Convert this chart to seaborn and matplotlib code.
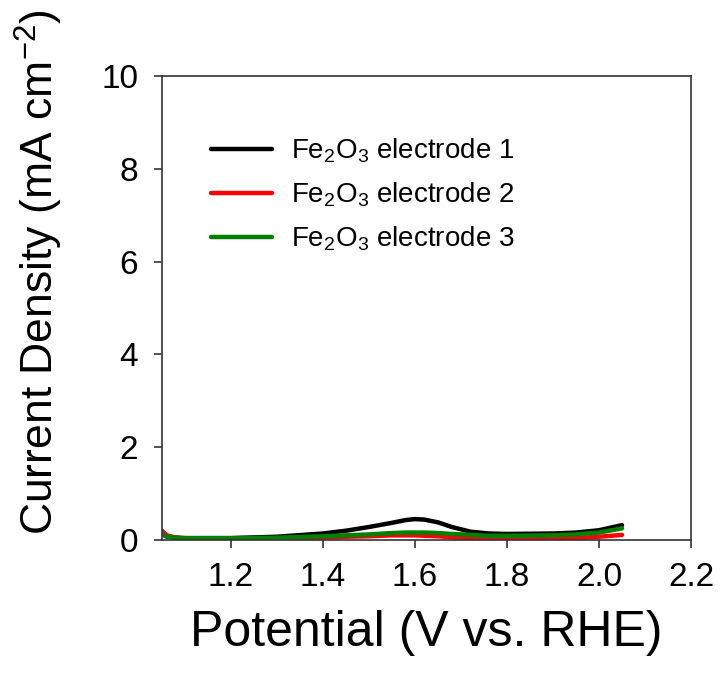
import numpy as np
import pandas as pd
import matplotlib
matplotlib.use("Agg")
import matplotlib.pyplot as plt
import seaborn as sns

potential = [1.05, 1.06, 1.08, 1.10, 1.20, 1.30, 1.40, 1.45, 1.50, 1.55,
             1.58, 1.60, 1.62, 1.65, 1.68, 1.72, 1.76, 1.80, 1.90, 1.95, 2.00, 2.05]
electrode_1 = [0.15, 0.08, 0.05, 0.04, 0.04, 0.07, 0.14, 0.20, 0.28, 0.37,
               0.43, 0.45, 0.44, 0.38, 0.28, 0.18, 0.14, 0.13, 0.14, 0.16, 0.21, 0.32]
electrode_2 = [0.20, 0.10, 0.05, 0.03, 0.02, 0.03, 0.05, 0.07, 0.08, 0.10,
               0.10, 0.10, 0.09, 0.08, 0.06, 0.04, 0.02, 0.02, 0.03, 0.04, 0.07, 0.11]
electrode_3 = [0.12, 0.07, 0.05, 0.04, 0.04, 0.05, 0.08, 0.10, 0.12, 0.15,
               0.16, 0.16, 0.16, 0.15, 0.13, 0.11, 0.09, 0.09, 0.10, 0.12, 0.16, 0.25]

labels = [r"Fe$_2$O$_3$ electrode 1", r"Fe$_2$O$_3$ electrode 2", r"Fe$_2$O$_3$ electrode 3"]
colors = ["black", "red", "green"]

n = len(potential)
df = pd.DataFrame({
    "Potential": potential * 3,
    "Current": electrode_1 + electrode_2 + electrode_3,
    "Sample": [labels[0]] * n + [labels[1]] * n + [labels[2]] * n,
})

sns.set_theme(style="ticks")
plt.rcParams["font.family"] = ["Liberation Sans", "DejaVu Sans"]
plt.rcParams["mathtext.fontset"] = "custom"
plt.rcParams["mathtext.rm"] = "Liberation Sans"
plt.rcParams["mathtext.it"] = "Liberation Sans"
plt.rcParams["text.color"] = "black"
plt.rcParams["axes.labelcolor"] = "black"
plt.rcParams["xtick.color"] = "black"
plt.rcParams["ytick.color"] = "black"

fig = plt.figure(figsize=(7.26, 6.87), dpi=100)
ax = fig.add_axes([0.2231, 0.2140, 0.7287, 0.6754])

sns.lineplot(data=df, x="Potential", y="Current", hue="Sample", palette=colors,
             linewidth=3.2, ax=ax, sort=False)

ax.set_xlim(1.05, 2.2)
ax.set_ylim(0, 10)
ax.set_xticks([1.2, 1.4, 1.6, 1.8, 2.0, 2.2])
ax.set_xticklabels(["1.2", "1.4", "1.6", "1.8", "2.0", "2.2"])
ax.set_yticks([0, 2, 4, 6, 8, 10])

for side in ["top", "right", "left", "bottom"]:
    ax.spines[side].set_visible(True)
    ax.spines[side].set_color("#333333")
    ax.spines[side].set_linewidth(1.2)

ax.tick_params(axis="both", direction="out", length=6, width=1.2, color="#333333",
               labelsize=24, top=False, right=False)
ax.tick_params(axis="x", pad=10)
ax.tick_params(axis="y", pad=11)

ax.set_xlabel("Potential (V vs. RHE)", fontsize=36, labelpad=12)
ax.set_ylabel(r"Current Density (mA cm$^{-2}$)", fontsize=32)
ax.yaxis.set_label_coords(-0.183, 0.578)

leg = ax.legend(loc="upper left", bbox_to_anchor=(0.045, 0.923), frameon=False,
                fontsize=20, handlelength=2.2, handletextpad=0.7,
                labelspacing=0.55, title=None)
for line in leg.get_lines():
    line.set_linewidth(3.2)

fig.savefig("out.png", dpi=100)
